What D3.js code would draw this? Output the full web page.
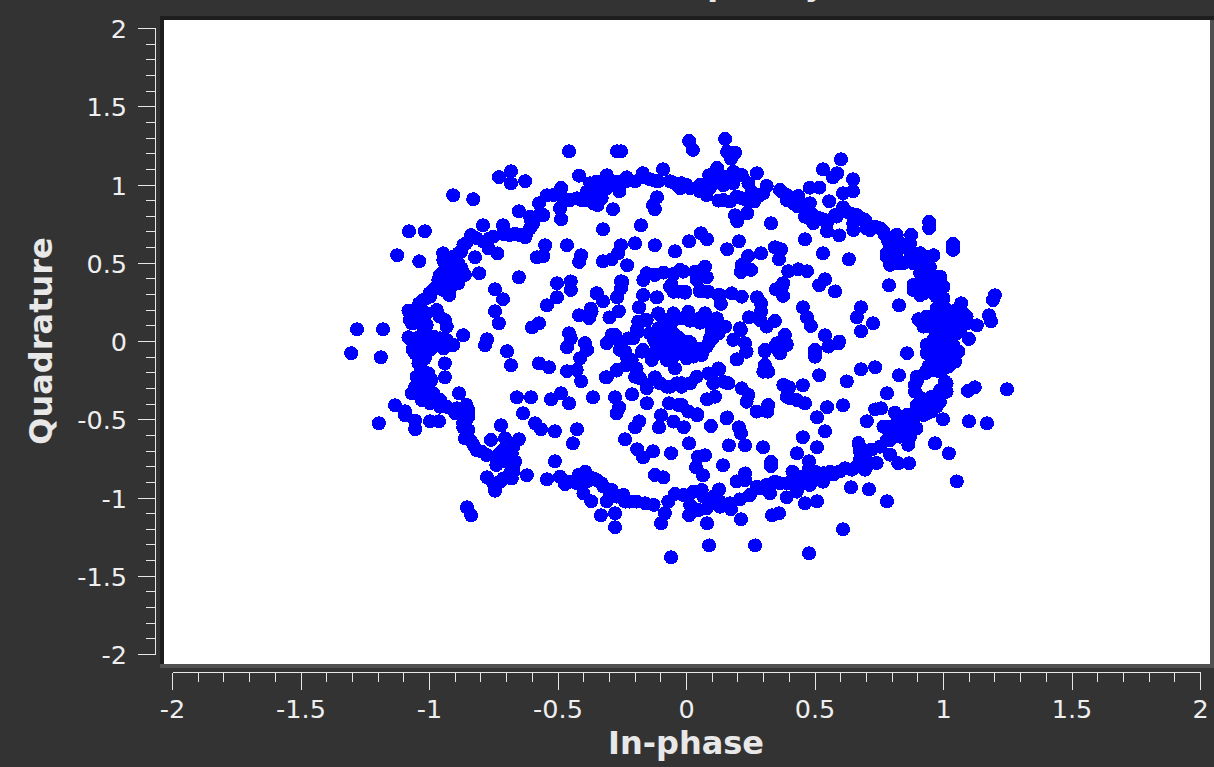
<!DOCTYPE html>
<html><head><meta charset="utf-8">
<script src="https://cdn.jsdelivr.net/npm/d3@7"></script>
<style>html,body{margin:0;padding:0;background:#333}svg{display:block}text{font-family:"DejaVu Sans",sans-serif}</style>
</head><body><div id="c"></div>
<script>
const xTicks=[-2,-1.5,-1,-0.5,0,0.5,1,1.5,2];
const yTicks=[-2,-1.5,-1,-0.5,0,0.5,1,1.5,2];
const xTitle="In-phase", yTitle="Quadrature", plotTitle="Frequency";
const ringTopLeft=[[-0.457,1.215],[-0.27,1.215],[-0.255,1.215],[-0.73,1.05],[-0.683,1.087],[-0.683,1.01],[-0.628,1.024],[-0.418,1.06],[-0.908,0.934],[-0.83,0.909],[-1.08,0.704],[-1.018,0.704],[-1.126,0.551],[-1.04,0.512],[-1.282,0.078],[-1.181,0.078],[-1.305,-0.075],[-0.947,0.563],[-0.94,0.5],[-0.877,0.574],[-0.858,0.627],[-0.838,0.68],[-0.792,0.742],[-0.714,0.742],[-0.767,0.659],[-0.77,0.595],[-0.736,0.563],[-0.823,0.538],[-0.807,0.436],[-0.713,0.687],[-0.667,0.687],[-0.628,0.666],[-0.609,0.723],[-0.605,0.776],[-0.574,0.806],[-0.652,0.832],[-0.574,0.883],[-0.544,0.934],[-0.488,0.981],[-0.488,0.934],[-0.492,0.851],[-0.488,0.781],[-0.427,0.915],[-0.388,0.904],[-0.346,0.872],[-0.33,0.915],[-0.362,1.011],[-0.35,1.021],[-0.31,1.062],[-0.261,0.96],[-0.286,0.845],[-0.233,1.049],[-0.2,1.023],[-0.17,1.075],[-0.142,1.036],[-0.11,1.023],[-0.064,1.023],[-0.091,1.1],[-0.025,0.979],[-0.115,0.921],[-0.13,0.87],[-0.123,0.845],[-0.325,0.717],[-0.177,0.742],[-0.375,0.957],[-0.337,0.957],[-0.31,0.979],[-0.285,1.011],[-0.933,0.414],[-0.907,0.436],[-0.875,0.414],[-0.96,0.425],[-0.973,0.35],[-0.94,0.372],[-0.9,0.372],[-0.92,0.478],[-0.888,0.5],[-0.923,0.297],[-1.0,0.308],[-1.04,0.244],[-1.076,0.193],[-1.05,0.159],[-1.063,0.116],[-1.011,0.18],[-0.96,0.159],[-0.933,0.095],[-1.082,0.027],[-0.869,0.04],[-1.037,0.031],[-0.985,0.031],[-0.914,-0.022],[-1.063,-0.033],[-0.998,-0.033],[-1.082,0.197],[-1.069,0.116],[-1.011,0.031],[-0.959,0.01],[-1.066,-0.05]];
const fillTopLeft=[[-0.689,0.68],[-0.648,0.68],[-0.518,0.936],[-0.479,0.915],[-0.453,0.904],[-0.408,0.904],[-0.362,0.883],[-0.343,0.915],[-0.388,0.957],[-0.375,1.011],[-0.324,0.989],[-0.272,1.021],[-0.239,1.021],[-0.161,1.049],[-0.123,1.028],[-0.045,1.011],[-0.609,0.798],[-0.622,0.691],[-0.596,0.755],[-0.557,0.808],[-0.816,0.659],[-0.79,0.638],[-0.752,0.67],[-0.868,0.617],[-0.888,0.563],[-0.907,0.542],[-0.946,0.521],[-0.94,0.457],[-0.875,0.467],[-0.894,0.414],[-0.862,0.425],[-0.96,0.372],[-0.92,0.34],[-0.888,0.372],[-0.985,0.329],[-0.946,0.329],[-0.966,0.393],[-1.024,0.265],[-0.998,0.286],[-1.043,0.201],[-1.076,0.137],[-1.037,0.116],[-0.972,0.201],[-0.94,0.137],[-1.011,0.105],[-1.011,0.02],[-0.96,0.02],[-0.933,0],[-1.063,0.01]];
const innerTopLeft=[[-0.55,0.615],[-0.557,0.546],[-0.583,0.538],[-0.465,0.615],[-0.41,0.551],[-0.418,0.508],[-0.652,0.41],[-0.745,0.333],[-0.714,0.27],[-0.745,0.193],[-0.73,0.116],[-0.776,0.014],[-0.784,-0.024],[-0.698,-0.063],[-0.504,0.372],[-0.45,0.384],[-0.45,0.329],[-0.504,0.282],[-0.543,0.231],[-0.574,0.116],[-0.601,0.09],[-0.418,0.167],[-0.379,0.15],[-0.372,0.21],[-0.348,0.308],[-0.325,0.257],[-0.27,0.282],[-0.3,0.154],[-0.263,0.193],[-0.255,0.384],[-0.255,0.34],[-0.231,0.487],[-0.325,0.512],[-0.291,0.525],[-0.266,0.563],[-0.255,0.615],[-0.2,0.627],[-0.123,0.615],[-0.045,0.576],[-0.169,0.295],[-0.115,0.282],[-0.184,0.218],[-0.457,0.052],[-0.45,0.02],[-0.395,-0.01],[-0.465,-0.037],[-0.387,-0.054],[-0.31,-0.01],[-0.278,0.042],[-0.259,0],[-0.207,0.02],[-0.188,0.063],[-0.17,-0.054],[-0.168,0.393],[-0.155,0.436],[-0.123,0.425],[-0.09,0.44],[-0.051,0.431],[-0.025,0.457],[-0.064,0.35],[-0.051,0.318],[-0.188,0.127],[-0.155,0.137],[-0.11,0.18],[-0.051,0.18],[-0.09,0.116],[-0.06,0.116],[-0.11,0.052],[-0.077,0.052],[-0.051,0.052],[-0.123,0],[-0.077,0],[-0.038,-0.01],[-0.35,0.308],[-0.369,0.191],[-0.25,0.382]];
const ringTopRight=[[0.01,1.281],[0.025,1.224],[0.15,1.294],[0.158,1.213],[0.189,1.207],[0.173,1.168],[0.119,1.109],[0.088,1.062],[0.274,1.075],[-0.019,1.011],[0.014,0.979],[0.053,0.958],[0.078,0.936],[0.124,0.9],[0.169,0.894],[0.215,0.915],[0.143,1.053],[0.182,1.085],[0.215,1.064],[0.241,1.011],[0.104,1.021],[0.143,0.999],[0.182,1.011],[0.254,0.957],[0.263,0.894],[0.312,0.994],[0.286,0.936],[0.37,0.957],[0.39,0.904],[0.435,0.93],[0.429,0.866],[0.48,0.883],[0.48,0.983],[0.517,0.983],[0.531,1.1],[0.586,1.075],[0.57,1.049],[0.601,1.164],[0.648,1.036],[0.648,0.96],[0.609,0.947],[0.555,0.896],[0.609,0.857],[0.189,0.806],[0.236,0.819],[0.197,0.768],[0.329,0.755],[0.461,0.653],[0.547,0.704],[0.594,0.678],[0.468,0.798],[0.52,0.787],[0.546,0.755],[0.578,0.808],[0.636,0.819],[0.681,0.787],[0.649,0.712],[0.714,0.712],[0.734,0.734],[0.766,0.702],[0.818,0.681],[0.874,0.681],[0.785,0.638],[0.785,0.542],[0.818,0.5],[0.87,0.574],[0.883,0.542],[0.961,0.551],[0.944,0.764],[0.944,0.725],[1.037,0.623],[1.037,0.585],[0.928,0.542],[0.922,0.478],[0.922,0.414],[0.98,0.414],[0.883,0.361],[1.0,0.35],[0.941,0.35],[0.909,0.297],[0.973,0.286],[1.0,0.276],[0.788,0.359],[0.827,0.231],[1.2,0.295],[1.192,0.265],[1.177,0.167],[1.185,0.129],[1.13,0.103],[1.069,0.244],[1.099,0.016],[0.902,0.142],[1.077,0.18],[1.025,0.18],[0.973,0.159],[0.947,0.095],[1.012,0.116],[1.09,0.116],[0.96,0.01],[1.012,0.031],[1.051,0.052],[0.935,0.137],[1.064,0.073],[1.019,0.052]];
const fillTopRight=[[0.364,0.968],[0.39,0.936],[0.416,0.883],[0.455,0.862],[0.461,0.798],[0.493,0.808],[0.493,0.755],[0.539,0.776],[0.584,0.798],[0.623,0.83],[0.662,0.808],[0.695,0.776],[0.649,0.755],[0.701,0.723],[0.753,0.723],[0.772,0.681],[0.792,0.606],[0.831,0.627],[0.87,0.627],[0.818,0.574],[0.779,0.564],[0.883,0.5],[0.909,0.564],[0.935,0.521],[0.947,0.478],[0.909,0.436],[0.974,0.372],[0.883,0.329],[0.922,0.308],[0.96,0.329],[0.986,0.308],[1.0,0.223],[0.974,0.201],[0.934,0.159],[0.922,0.095],[1.0,0.095],[1.039,0.137],[1.051,0.201],[1.09,0.159],[1.064,0.095],[0.973,-0.033],[1.012,-0.033],[0.934,-0.022],[0.053,1.0],[0.091,0.979],[0.182,1.043],[0.143,0.904],[0.195,0.926],[0.234,0.904],[0.299,0.947],[0,1.0],[0.779,0.542],[0.792,0.489],[0.844,0.5],[0.883,0.51],[0.922,0.457],[0.915,0.372],[0.948,0.393],[0.987,0.414],[0.948,0.318],[0.987,0.287],[0.974,0.212],[1.012,0.201],[0.954,0.137],[1.051,0.116],[1.077,0.159],[0.987,0.052],[1.038,0.041],[1.012,0]];
const innerTopRight=[[0.679,0.218],[0.663,0.154],[0.726,0.116],[0.679,0.065],[0.539,0.039],[0.594,0],[0.555,-0.029],[0.5,-0.054],[0.858,-0.075],[0.056,0.691],[0.08,0.653],[0.01,0.64],[0.158,0.589],[0.204,0.64],[0.344,0.602],[0.368,0.589],[0.36,0.525],[0.29,0.563],[0.24,0.546],[0.215,0.489],[0.212,0.444],[0.251,0.457],[0.396,0.449],[0.435,0.461],[0.469,0.449],[0.531,0.563],[0.632,0.525],[0.539,0.397],[0.516,0.359],[0.578,0.32],[0.376,0.372],[0.348,0.333],[0.376,0.291],[0.453,0.218],[0.469,0.154],[0.484,0.099],[0.274,0.282],[0.29,0.244],[0.29,0.191],[0.243,0.154],[0.312,0.095],[0.344,0.131],[0.286,0.137],[0.383,0.042],[0.352,-0.012],[0.39,-0.016],[0.305,-0.054],[0.212,0.073],[0.182,0.01],[0.228,-0.012],[0.072,0.478],[0.033,0.446],[-0.012,0.446],[0.079,0.41],[0.04,0.393],[0.053,0.329],[-0.006,0.312],[0.085,0.318],[0.13,0.297],[0.134,0.24],[0.176,0.308],[0.215,0.286],[0.007,0.19],[0.072,0.18],[-0.012,0.148],[0.04,0.137],[0.091,0.127],[0.15,0.095],[0.124,0.052],[0.05,0.125],[0.118,0.148],[0.007,0],[0.085,-0.012],[0.111,0.137],[0.208,0.084],[0.37,0.339]];
const centreBlob=[[-0.09,0.138],[-0.064,0.074],[-0.116,0.009],[-0.084,-0.033],[-0.045,-0.033],[-0.012,-0.054],[0.04,-0.054],[0.079,-0.033],[0.092,0.02],[0.111,0.074],[0.092,0.116],[0.053,0.149],[0.014,0.149],[-0.032,0.149],[-0.103,-0.054],[-0.129,-0.097],[-0.051,-0.097],[0.001,-0.108],[0.066,-0.054],[-0.174,-0.065],[-0.194,0.074],[-0.226,0.02],[-0.291,0.042],[-0.31,-0.012],[-0.259,-0.054],[-0.233,-0.097],[-0.168,0.297],[-0.116,0.282],[-0.185,0.218],[-0.109,0.18],[-0.162,0.138],[-0.058,0.361],[-0.032,0.319],[-0.006,0.319],[0.053,0.319],[0.079,0.319],[0.124,0.297],[0.133,0.244]];
const centreFill=[[0.014,-0.007],[0.046,-0.048],[-0.032,0.027],[0.014,0.133],[0.053,0.12],[0.098,0.063],[0.102,0.02],[-0.064,0.127],[-0.071,0.031],[-0.109,0.084],[-0.103,0.01],[-0.129,0.02],[-0.116,-0.044],[-0.077,-0.076],[-0.025,-0.076],[0.027,-0.097],[0.059,-0.086],[-0.142,0.052]];
const ringBottomLeft=[[-1.189,-0.101],[-0.94,-0.14],[-0.94,-0.229],[-1.037,-0.054],[-1.056,-0.076],[-0.998,-0.054],[-0.946,-0.044],[-0.907,-0.022],[-1.063,-0.012],[-1.037,-0.14],[-1.037,-0.204],[-1.043,-0.246],[-0.998,-0.257],[-1.063,-0.331],[-1.024,-0.31],[-1.024,-0.363],[-0.998,-0.374],[-0.959,-0.374],[-0.885,-0.331],[-1.134,-0.408],[-1.095,-0.446],[-1.095,-0.472],[-1.056,-0.506],[-1.056,-0.561],[-1.197,-0.523],[-0.998,-0.51],[-0.963,-0.51],[-0.933,-0.417],[-0.894,-0.427],[-0.856,-0.406],[-0.849,-0.449],[-0.856,-0.502],[-0.869,-0.549],[-0.862,-0.619],[-0.842,-0.629],[-0.817,-0.693],[-0.778,-0.725],[-0.74,-0.736],[-0.722,-0.536],[-0.761,-0.629],[-0.706,-0.619],[-0.652,-0.625],[-0.713,-0.693],[-0.674,-0.672],[-0.74,-0.789],[-0.7,-0.768],[-0.667,-0.768],[-0.674,-0.832],[-0.776,-0.868],[-0.752,-0.906],[-0.745,-0.953],[-0.713,-0.875],[-0.68,-0.875],[-0.621,-0.855],[-0.543,-0.881],[-0.854,-1.06],[-0.838,-1.111],[-0.492,-0.864],[-0.473,-0.911],[-0.42,-0.853],[-0.394,-0.832],[-0.427,-0.906],[-0.35,-0.885],[-0.33,-0.906],[-0.291,-0.949],[-0.401,-0.97],[-0.371,-1.021],[-0.31,-1.021],[-0.245,-0.981],[-0.239,-1.023],[-0.194,-1.023],[-0.16,-1.034],[-0.128,-1.044],[-0.333,-1.111],[-0.278,-1.098],[-0.278,-1.187],[-0.084,-1.098],[-0.099,-1.162],[-0.06,-1.379],[-0.123,-0.853],[-0.09,-0.868],[-0.071,-1.023],[-0.045,-0.974]];
const fillBottomLeft=[[-1.05,-0.012],[-1.011,-0.022],[-0.972,-0.022],[-0.933,0.01],[-1.037,0.031],[-1.018,-0.108],[-1.043,-0.14],[-1.03,-0.182],[-1.005,-0.204],[-1.05,-0.225],[-1.018,-0.246],[-0.992,-0.246],[-1.056,-0.289],[-1.024,-0.31],[-0.985,-0.331],[-1.069,-0.331],[-1.03,-0.374],[-0.998,-0.395],[-0.959,-0.374],[-0.933,-0.417],[-0.894,-0.438],[-0.849,-0.438],[-0.849,-0.48],[-0.9,-0.459],[-0.959,-0.417],[-0.849,-0.566],[-0.869,-0.523],[-0.829,-0.661],[-0.797,-0.704],[-0.726,-0.715],[-0.7,-0.672],[-0.68,-0.715],[-0.7,-0.736],[-0.733,-0.757],[-0.674,-0.81],[-0.687,-0.843],[-0.739,-0.906],[-0.726,-0.896],[-0.687,-0.864],[-0.453,-0.896],[-0.388,-0.896],[-0.363,-0.874],[-0.324,-0.927],[-0.298,-0.981],[-0.272,-0.991],[-0.22,-1.023],[-0.401,-0.874]];
const innerBottomLeft=[[-0.683,-0.152],[-0.574,-0.14],[-0.535,-0.165],[-0.414,-0.107],[-0.427,-0.182],[-0.465,-0.19],[-0.41,-0.255],[-0.31,-0.229],[-0.272,-0.186],[-0.233,-0.15],[-0.66,-0.357],[-0.605,-0.357],[-0.527,-0.37],[-0.488,-0.331],[-0.457,-0.395],[-0.364,-0.357],[-0.278,-0.357],[-0.262,-0.42],[-0.272,-0.459],[-0.212,-0.338],[-0.154,-0.395],[-0.068,-0.395],[-0.032,-0.406],[-0.636,-0.459],[-0.589,-0.523],[-0.566,-0.561],[-0.512,-0.574],[-0.426,-0.561],[-0.442,-0.651],[-0.239,-0.625],[-0.184,-0.51],[-0.2,-0.549],[-0.099,-0.472],[-0.051,-0.512],[-0.107,-0.549],[-0.192,-0.689],[-0.169,-0.74],[-0.13,-0.702],[-0.06,-0.714],[-0.512,-0.766],[-0.123,-0.229],[-0.155,-0.299],[-0.2,-0.225],[-0.077,-0.289],[-0.038,-0.267],[-0.174,-0.065],[-0.135,-0.118],[-0.077,-0.118],[-0.239,-0.065],[-0.213,-0.118],[-0.314,-0.229],[-0.271,-0.182],[-0.226,-0.14],[-0.194,-0.171],[-0.181,-0.235],[-0.155,-0.278],[-0.103,-0.268],[-0.064,-0.289],[-0.045,-0.172],[-0.019,-0.289]];
const ringBottomRight=[[0.412,-0.832],[0.477,-0.808],[0.442,-0.864],[0.5,-0.832],[0.533,-0.842],[0.531,-0.896],[0.48,-0.917],[0.448,-0.906],[0.429,-0.96],[0.39,-0.906],[0.344,-0.896],[0.312,-0.917],[0.286,-0.938],[0.325,-0.97],[0.39,-0.996],[0.247,-0.981],[0.208,-1.009],[0.173,-1.072],[0.212,-1.136],[0.13,-1.023],[0.127,-0.945],[0.059,-0.949],[0.027,-0.96],[-0.012,-0.981],[0.078,-1.066],[0.046,-1.077],[0.01,-1.11],[0.014,-1.045],[0.104,-0.992],[0.08,-1.162],[0.088,-1.303],[0.267,-1.303],[0.477,-1.354],[0.609,-1.2],[0.461,-1.034],[0.508,-1.021],[0.333,-1.111],[0.36,-1.098],[0.64,-0.932],[0.71,-0.945],[0.78,-1.021],[1.052,-0.894],[0.824,-0.778],[0.866,-0.778],[0.597,-0.83],[0.571,-0.85],[0.643,-0.819],[0.695,-0.819],[0.74,-0.776],[0.675,-0.755],[0.669,-0.649],[0.675,-0.702],[0.72,-0.691],[0.792,-0.723],[0.863,-0.66],[0.87,-0.608],[0.805,-0.608],[0.766,-0.544],[0.818,-0.523],[0.811,-0.455],[0.857,-0.47],[0.895,-0.555],[0.922,-0.47],[0.96,-0.395],[0.998,-0.497],[0.702,-0.51],[0.734,-0.434],[0.757,-0.427],[0.967,-0.651],[1.021,-0.715],[1.099,-0.51],[1.169,-0.523],[1.095,-0.316],[1.122,-0.293],[1.247,-0.306],[0.928,-0.204],[0.96,-0.182],[1.006,-0.257],[1.012,-0.321],[0.986,-0.385],[0.896,-0.257],[0.889,-0.321],[0.915,-0.363],[0.941,-0.438],[0.96,-0.033],[1.037,-0.022],[1.058,-0.065],[0.948,-0.086],[1.045,-0.129],[0.993,-0.129],[1.012,-0.267],[0.999,-0.076]];
const fillBottomRight=[[0.273,-0.928],[0.364,-0.906],[0.409,-0.896],[0.455,-0.885],[0.493,-0.885],[0.559,-0.832],[0.617,-0.81],[0.662,-0.8],[0.714,-0.778],[0.701,-0.704],[0.753,-0.672],[0.792,-0.63],[0.831,-0.608],[0.779,-0.555],[0.831,-0.502],[0.883,-0.502],[0.908,-0.448],[0.954,-0.448],[0.896,-0.406],[0.869,-0.47],[0.857,-0.566],[0.779,-0.63],[0.675,-0.672],[0.169,-1.034],[0.104,-1.034],[0.065,-0.991],[0.13,-1.056],[0.967,-0.044],[1.006,-0.076],[0.935,-0.076],[0.974,-0.118],[0.941,-0.16],[1.0,-0.15],[1.019,-0.161],[0.896,-0.225],[0.889,-0.278],[0.935,-0.182],[0.987,-0.193],[0.987,-0.31],[0.954,-0.353],[0.928,-0.384],[0.902,-0.416],[0.883,-0.48],[0.935,-0.459],[0.973,-0.416],[0.831,-0.501],[0.785,-0.544]];
const innerBottomRight=[[0.305,-0.063],[0.36,-0.065],[0.39,-0.022],[0.197,-0.114],[0.232,-0.065],[0.5,-0.065],[0.5,-0.097],[0.552,-0.033],[0.591,-0.012],[0.305,-0.15],[0.299,-0.193],[0.318,-0.193],[0.516,-0.216],[0.624,-0.255],[0.679,-0.178],[0.734,-0.165],[0.827,-0.216],[0.78,-0.331],[0.399,-0.293],[0.453,-0.28],[0.403,-0.363],[0.429,-0.374],[0.461,-0.395],[0.547,-0.42],[0.508,-0.485],[0.609,-0.408],[0.539,-0.574],[0.453,-0.612],[0.508,-0.676],[0.43,-0.715],[0.477,-0.766],[0.127,-0.178],[0.098,-0.214],[0.04,-0.225],[0.014,-0.267],[-0.019,-0.267],[0.104,-0.267],[0.163,-0.267],[0.215,-0.299],[0.241,-0.342],[0.234,-0.385],[0.273,-0.448],[0.318,-0.406],[0.315,-0.448],[0.111,-0.353],[0.08,-0.37],[-0.019,-0.406],[0.007,-0.448],[0.041,-0.472],[0.158,-0.485],[0.095,-0.54],[-0.01,-0.548],[0.204,-0.548],[0.212,-0.587],[0.01,-0.651],[0.165,-0.664],[0.228,-0.664],[0.298,-0.676],[0.072,-0.727],[0.045,-0.736],[0.037,-0.804],[0.064,-0.855],[0.142,-0.791],[0.329,-0.77],[0.329,-0.796],[0.228,-0.843],[0.195,-0.894],[0.228,-0.885],[0.085,-0.204],[0.124,-0.172],[0.143,-0.257],[0.195,-0.114],[0.234,-0.065],[0.364,-0.076],[0.344,-0.033],[0.357,-0.012],[0.39,-0.353],[0.377,-0.278],[0.156,-0.491],[0.042,-0.465]];

const width=1214,height=767;
const x=d3.scaleLinear().domain([-2,2]).range([172.5,1200.5]);
const y=d3.scaleLinear().domain([-2,2]).range([654.5,28.5]);
const svg=d3.select("#c").append("svg").attr("width",width).attr("height",height);
svg.append("rect").attr("width",width).attr("height",height).attr("fill","#333");
svg.append("text").attr("x",638).attr("y",-5).attr("font-size",32).attr("font-weight","bold").attr("fill","#e8e8e8").text(plotTitle);
svg.append("rect").attr("x",160).attr("y",16).attr("width",1054).attr("height",652).attr("fill","#505050");
svg.append("path").attr("d","M160 668V16H1214V20H164V664H160Z").attr("fill","#1e1e1e").attr("shape-rendering","crispEdges");
svg.append("rect").attr("x",164).attr("y",20).attr("width",1046).attr("height",644).attr("fill","#fff");
const groups=[ringTopLeft,fillTopLeft,innerTopLeft,ringTopRight,fillTopRight,innerTopRight,centreBlob,centreFill,ringBottomLeft,fillBottomLeft,innerBottomLeft,ringBottomRight,fillBottomRight,innerBottomRight];
svg.append("g").selectAll("circle").data(groups.flat()).join("circle")
 .attr("cx",d=>x(d[0])).attr("cy",d=>y(d[1])).attr("r",7).attr("fill","#0000ff").attr("shape-rendering","crispEdges");
const minor=d3.range(41).map(k=>-2+k*0.1);
const ax=svg.append("g").attr("fill","none").attr("stroke","#e6e6e6").attr("stroke-width",1).attr("shape-rendering","crispEdges");
ax.append("path").attr("d",`M155.5 ${y(2)}V${y(-2)}`);
ax.append("path").attr("d",`M${x(-2)} 672.5H${x(2)}`);
minor.forEach(v=>{
 const major=xTicks.some(t=>Math.abs(t-v)<1e-6);
 ax.append("line").attr("x1",x(v)).attr("x2",x(v)).attr("y1",672.5).attr("y2",major?689.5:681.5);
 ax.append("line").attr("y1",y(v)).attr("y2",y(v)).attr("x1",155.5).attr("x2",major?138:146);
});
const lab=svg.append("g").attr("fill","#eee").attr("font-size",25.5);
xTicks.forEach(t=>lab.append("text").attr("x",x(t)).attr("y",718).attr("text-anchor","middle").text(t));
yTicks.forEach(t=>lab.append("text").attr("x",127).attr("y",y(t)+9.5).attr("text-anchor","end").text(t));
svg.append("text").attr("x",686).attr("y",754).attr("text-anchor","middle").attr("font-size",32).attr("font-weight","bold").attr("fill","#e8e8e8").text(xTitle);
svg.append("text").attr("transform","translate(52,341) rotate(-90)").attr("text-anchor","middle").attr("font-size",32).attr("font-weight","bold").attr("fill","#e8e8e8").text(yTitle);
</script></body></html>
